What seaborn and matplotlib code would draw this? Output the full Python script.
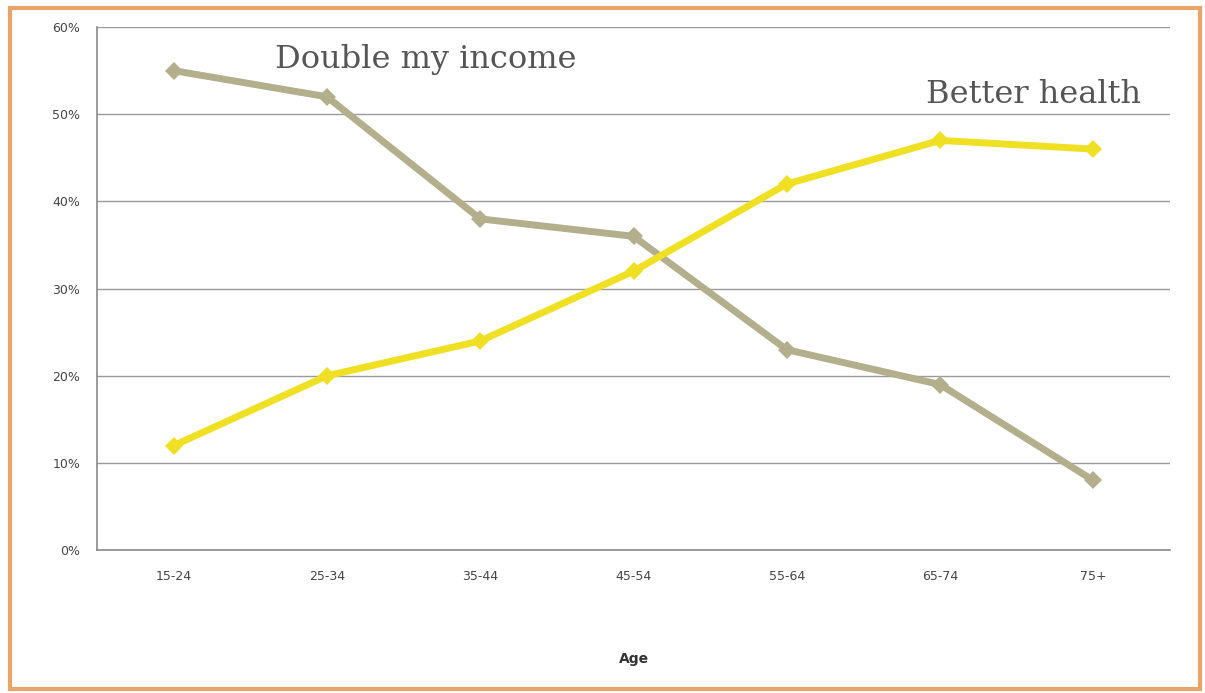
import matplotlib
matplotlib.use("Agg")
import matplotlib.pyplot as plt
from matplotlib.patches import Rectangle
from matplotlib.ticker import PercentFormatter, FixedLocator
import pandas as pd
import seaborn as sns

ages = ["15-24", "25-34", "35-44", "45-54", "55-64", "65-74", "75+"]
double_income = [55, 52, 38, 36, 23, 19, 8]
better_health = [12, 20, 24, 32, 42, 47, 46]

df = pd.DataFrame({
    "age": ages * 2,
    "pct": double_income + better_health,
    "series": ["Double my income"] * 7 + ["Better health"] * 7,
})

sns.set_style("white")
fig = plt.figure(figsize=(12.05, 6.93), dpi=100)
ax = fig.add_axes([0.0805, 0.206, 0.8905, 0.755])

palette = {"Double my income": "#b3ae8c", "Better health": "#f0e024"}
sns.lineplot(data=df, x="age", y="pct", hue="series", palette=palette,
             marker="D", markersize=9, markeredgewidth=0, linewidth=5,
             sort=False, legend=False, ax=ax)

ax.set_ylim(0, 60)
ax.set_xlim(-0.5, 6.5)
ax.yaxis.set_major_locator(FixedLocator(range(0, 61, 10)))
ax.yaxis.set_major_formatter(PercentFormatter(decimals=0))
ax.grid(axis="y", color="#9a9a9a", linewidth=1)
ax.set_axisbelow(True)

# tick marks sit between categories, labels at the centres
ax.set_xticks(range(len(ages)))
ax.set_xticklabels(ages)
ax.set_xticks([i - 0.5 for i in range(len(ages) + 1)], minor=True)
ax.tick_params(axis="x", which="major", length=0, pad=14, labelsize=9, labelcolor="#444444")
ax.tick_params(axis="x", which="minor", length=5, color="#8a8a8a", direction="out")
ax.tick_params(axis="y", length=6, color="#8a8a8a", direction="out", labelsize=9,
               labelcolor="#444444", pad=6)

for side in ["top", "right"]:
    ax.spines[side].set_visible(False)
for side in ["left", "bottom"]:
    ax.spines[side].set_color("#8a8a8a")
    ax.spines[side].set_linewidth(1.2)

ax.set_ylabel("")
ax.set_xlabel("Age", fontsize=10, fontweight="bold", color="#333333", labelpad=50)

ax.text(0.66, 56.3, "Double my income", fontsize=23, family="DejaVu Serif",
        color="#555555", va="center", ha="left")
ax.text(6.31, 52.3, "Better health", fontsize=23, family="DejaVu Serif",
        color="#555555", va="center", ha="right")

fig.patches.append(Rectangle((0.008, 0.006), 0.988, 0.983, transform=fig.transFigure,
                             fill=False, edgecolor="#e9a46a", linewidth=3))

fig.savefig("out.png", dpi=100)
